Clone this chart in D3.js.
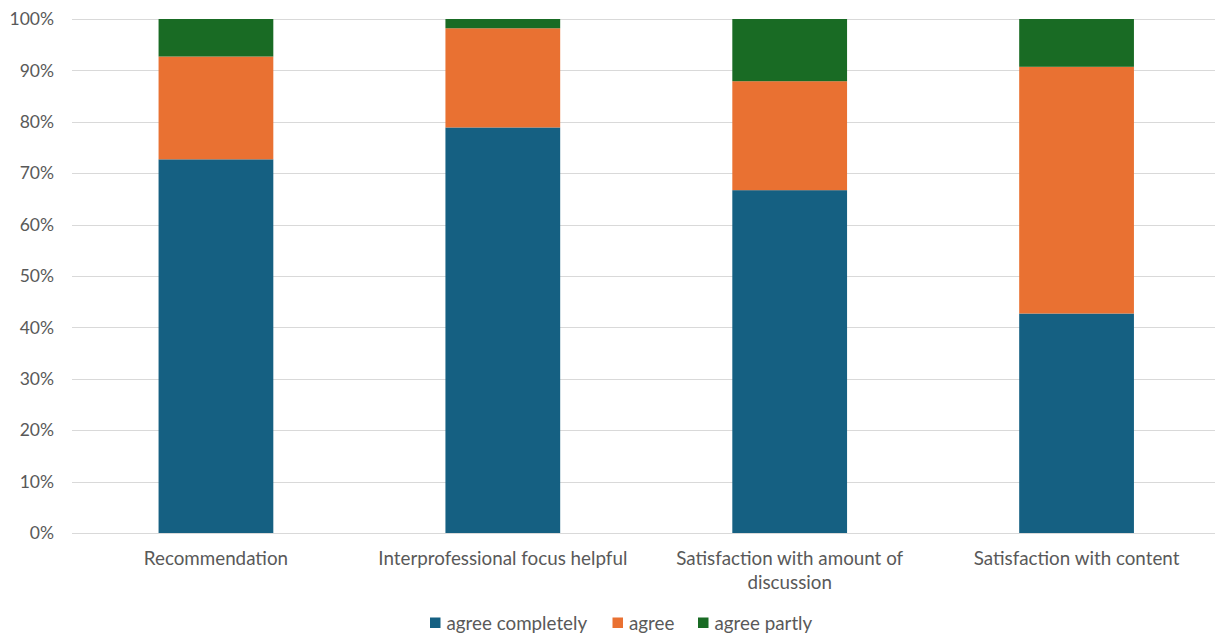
<!DOCTYPE html>
<html><head><meta charset="utf-8">
<script src="https://cdn.jsdelivr.net/npm/d3@7"></script>
<style>body{margin:0;background:#fff;} svg{display:block;font-family:Lato, "Open Sans", sans-serif;}</style>
</head><body>
<svg id="c" width="1215" height="635"></svg>
<script>
const categories = ["Recommendation", "Interprofessional focus helpful", "Satisfaction with amount of discussion", "Satisfaction with content"];
const seriesNames = ["agree completely", "agree", "agree partly"];
const agreeCompletely = [72.7, 78.9, 66.7, 42.7];
const agree = [20.0, 19.3, 21.2, 48.0];
const agreePartly = [7.3, 1.8, 12.1, 9.3];
const yTicks = [0,10,20,30,40,50,60,70,80,90,100];
const colors = ["#156082", "#E97132", "#196B24"];

const rows = categories.map((c,i)=>({cat:c, "agree completely":agreeCompletely[i], "agree":agree[i], "agree partly":agreePartly[i]}));
const svg = d3.select("#c");
const x = d3.scaleBand().domain(categories).range([72.5, 1220]).paddingInner(0.6).paddingOuter(0.3);
const y = d3.scaleLinear().domain([0,100]).range([533, 19]);

const grid = svg.append("g");
grid.selectAll("line").data(yTicks).join("line")
  .attr("x1",72).attr("x2",1215)
  .attr("y1",d=>Math.round(y(d))+0.5).attr("y2",d=>Math.round(y(d))+0.5)
  .attr("stroke","#d9d9d9").attr("stroke-width",1);

const yAxis = d3.axisLeft(y).tickValues(yTicks).tickFormat(d=>d+"%").tickSize(0).tickPadding(0);
const ya = svg.append("g").attr("transform","translate(54,0)").call(yAxis);
ya.select(".domain").remove();
ya.selectAll("text").attr("fill","#595959").style("font-size","17.5px").style("font-family","Lato, 'Open Sans', sans-serif");

const stack = d3.stack().keys(seriesNames)(rows);
svg.append("g").selectAll("g").data(stack).join("g").attr("fill",(d,i)=>colors[i])
  .selectAll("rect").data(d=>d).join("rect")
  .attr("x",d=>x(d.data.cat)).attr("width",x.bandwidth())
  .attr("y",d=>y(d[1])).attr("height",d=>y(d[0])-y(d[1]));

const xAxis = d3.axisBottom(x).tickSize(0).tickPadding(0);
const xa = svg.append("g").attr("transform","translate(0,533)").call(xAxis);
xa.select(".domain").remove();
xa.selectAll("text").attr("fill","#595959").style("font-size","18.8px").style("font-family","Lato, 'Open Sans', sans-serif")
  .attr("y",19)
  .each(function(d){
    const t = d3.select(this); t.text(null);
    const lines = d==="Satisfaction with amount of discussion" ? ["Satisfaction with amount of","discussion"] : [d];
    lines.forEach((l,i)=>t.append("tspan").attr("x",0).attr("dy",i===0?"0.71em":"24px").text(l));
  });

const lg = svg.append("g").attr("transform","translate(0,623)");
const legX = [430, 612.5, 698];
seriesNames.forEach((s,i)=>{
  lg.append("rect").attr("x",legX[i]).attr("y",-5.5).attr("width",10.5).attr("height",10.5).attr("fill",colors[i]);
  lg.append("text").attr("x",legX[i]+16.5).attr("y",0).attr("dy","0.35em").attr("fill","#595959")
    .style("font-size","18.8px").text(s);
});
</script>
</body></html>
